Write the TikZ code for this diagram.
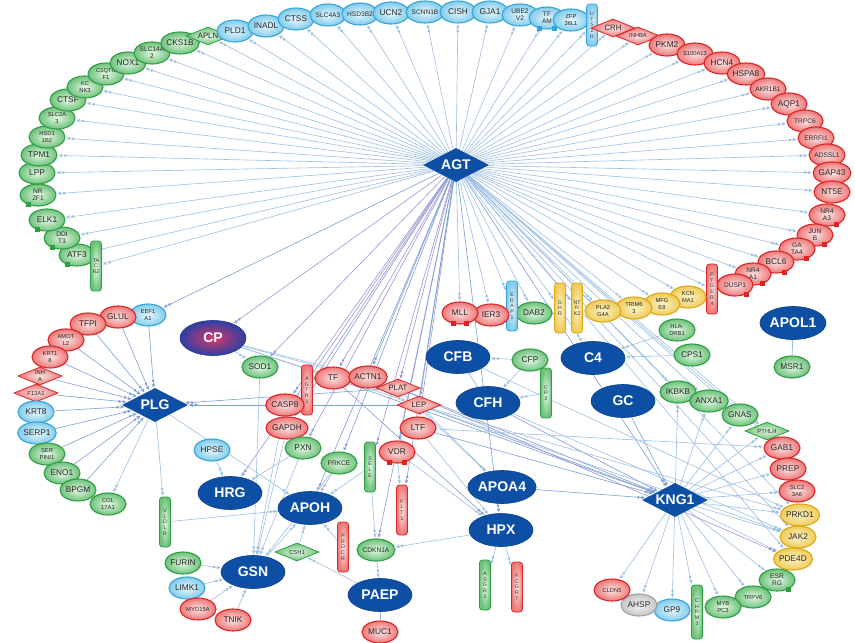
\documentclass[tikz,border=0pt]{standalone}
\usepackage{fontspec}
\setmainfont{Liberation Sans}
\usetikzlibrary{shapes.geometric,arrows.meta,backgrounds,calc}
\definecolor{gL}{HTML}{E4F7E4}\definecolor{gM}{HTML}{6EC27A}\definecolor{gD}{HTML}{2E9E46}
\definecolor{rL}{HTML}{FCE4E4}\definecolor{rM}{HTML}{EE7878}\definecolor{rD}{HTML}{DD2424}
\definecolor{bL}{HTML}{E6F7FD}\definecolor{bM}{HTML}{82CBEC}\definecolor{bD}{HTML}{32A6D8}
\definecolor{yL}{HTML}{FCF2C6}\definecolor{yM}{HTML}{EFCC5A}\definecolor{yD}{HTML}{DCA814}
\definecolor{kL}{HTML}{F4F4F4}\definecolor{kM}{HTML}{C6C6C6}\definecolor{kD}{HTML}{A0A0A0}
\definecolor{bigB}{HTML}{0E4FA6}
\definecolor{eC}{HTML}{9CBFE4}\definecolor{eD}{HTML}{7E9ED6}\definecolor{eP}{HTML}{9C94DA}
\definecolor{cpI}{HTML}{D8386A}\definecolor{cpO}{HTML}{2C40A2}
\newcommand\putfoot[3]{\fill[#3] ($(#1.#2)+(-2.5,-2.5)$) rectangle ++(5,5);}
\tikzset{
 sm/.style={ellipse, line width=1.1pt, minimum width=36pt, minimum height=22pt, inner sep=0pt, text=black!85, font=\fontsize{8.3}{8.5}\selectfont, align=center},
 tw/.style={font=\fontsize{6.6}{6.8}\selectfont},
 ts/.style={font=\fontsize{5.8}{6.1}\selectfont},
 gc/.style={draw=gD, inner color=gL, outer color=gM},
 rc/.style={draw=rD, inner color=rL, outer color=rM},
 bc/.style={draw=bD, inner color=bL, outer color=bM},
 yc/.style={draw=yD, inner color=yL, outer color=yM},
 kc/.style={draw=kD, inner color=kL, outer color=kM},
 sdia/.style={diamond, aspect=2.6, line width=0.8pt, minimum width=44pt, minimum height=18pt, inner sep=0pt, text=black!85, font=\fontsize{7.8}{7.8}\selectfont, align=center},
 vrec/.style={rectangle, rounded corners=3pt, line width=0.8pt, minimum width=11pt, minimum height=50pt, inner sep=0pt, text=black!80, font=\fontsize{5.2}{5.7}\selectfont, align=center},
 big/.style={ellipse, fill=bigB, draw=bigB!85!black, line width=0.6pt, minimum width=64pt, minimum height=33pt, inner sep=0pt, text=white, font=\fontsize{14}{14}\selectfont\bfseries},
 bigd/.style={diamond, aspect=1.9, fill=bigB, minimum width=66pt, minimum height=34pt, inner sep=0pt, text=white, font=\fontsize{14}{14}\selectfont\bfseries},
 ed/.style={draw=eC, line width=0.6pt, shorten >=1pt, -{Circle[length=2.6pt,sep=1.4pt] Stealth[length=4pt,width=3.6pt]}},
 edd/.style={ed, draw=eD},
 edp/.style={ed, draw=eP},
 pl/.style={draw=eC, line width=0.7pt},
}
\begin{document}
\begin{tikzpicture}[x=1pt,y=-1pt]
\useasboundingbox (0,0) rectangle (855,643);
% ---- hubs
\node[bigd] (AGT) at (456,165) {AGT};
\node[bigd] (PLG) at (155,405) {PLG};
\node[bigd] (KNG1) at (675,500) {KNG1};
\node[big, draw=cpO, inner color=cpI, outer color=cpO, minimum width=66pt, minimum height=35pt] (CP) at (213,338) {CP};
\node[big] (CFB) at (458,357) {CFB};
\node[big] (CFH) at (488,403) {CFH};
\node[big] (C4) at (593,358) {C4};
\node[big] (GC) at (623,401) {GC};
\node[big] (APOL1) at (793,323) {APOL1};
\node[big] (HRG) at (230,493) {HRG};
\node[big] (APOH) at (310,508) {APOH};
\node[big] (APOA4) at (502,487) {APOA4};
\node[big] (HPX) at (501,530) {HPX};
\node[big] (GSN) at (253,572) {GSN};
\node[big] (PAEP) at (380,595) {PAEP};
% ---- outer arc, green
\node[sm,gc] (ATF3) at (77,255) {ATF3};
\node[vrec,gc] (TACR2) at (96,266) {TA\\C\\R2};
\node[sm,gc,tw] (DDIT3) at (62,238) {DDI\\T3};
\node[sm,gc] (ELK1) at (47,220) {ELK1};
\node[sm,gc,tw] (NR2F1) at (38,195) {NR\\2F1};
\node[sm,gc] (LPP) at (37,173) {LPP};
\node[sm,gc] (TPM1) at (39,155) {TPM1};
\node[sm,gc,ts] (HSD11B2) at (47,137) {HSD1\\1B2};
\node[sm,gc,ts] (SLC2A3) at (57,118) {SLC2A\\3};
\node[sm,gc] (CTSF) at (68,100) {CTSF};
\node[sm,gc,ts] (KCNK3) at (85,87) {KC\\NK3};
\node[sm,gc,ts] (C1QTNF1) at (106,74) {C1QTN\\F1};
\node[sm,gc] (NOX1) at (128,63) {NOX1};
\node[sm,gc,tw] (SLC14A2) at (152,53) {SLC14A\\2};
\node[sm,gc] (CKS1B) at (180,43) {CKS1B};
\node[sdia,gc] (APLN) at (208,36) {APLN};
% ---- blue
\node[sm,bc] (PLD1) at (235,31) {PLD1};
\node[sm,bc] (INADL) at (266,26) {INADL};
\node[sm,bc] (CTSS) at (296,19) {CTSS};
\node[sm,bc,tw] (SLC4A3) at (328,15) {SLC4A3};
\node[sm,bc,tw] (HSD3B2) at (360,14) {HSD3B2};
\node[sm,bc] (UCN2) at (391,13) {UCN2};
\node[sm,bc,tw] (SCNN1B) at (425,12) {SCNN1B};
\node[sm,bc] (CISH) at (458,12) {CISH};
\node[sm,bc] (GJA1) at (490,12) {GJA1};
\node[sm,bc,tw] (UBE2V2) at (520,15) {UBE2\\V2};
\node[sm,bc,tw] (TFAM) at (547,18) {TF\\AM};
\node[sm,bc,ts] (ZFP36L1) at (571,20) {ZFP\\36L1};
\node[vrec,bc,minimum height=42pt] (UTS2R) at (592,25) {U\\T\\S\\2\\R};
% ---- red
\node[sdia,rc] (CRH) at (613,28) {CRH};
\node[sdia,rc,ts] (INHBA) at (638,36) {INHBA};
\node[sm,rc] (PKM2) at (667,45) {PKM2};
\node[sm,rc,ts] (S100A13) at (695,54) {S100A13};
\node[sm,rc] (HCN4) at (722,63) {HCN4};
\node[sm,rc] (HSPA8) at (746,74) {HSPA8};
\node[sm,rc,tw] (AKR1B1) at (768,89) {AKR1B1};
\node[sm,rc] (AQP1) at (789,104) {AQP1};
\node[sm,rc,tw] (TRPC6) at (805,121) {TRPC6};
\node[sm,rc,tw] (ERRFI1) at (816,138) {ERRFI1};
\node[sm,rc,tw] (ADSSL1) at (827,155) {ADSSL1};
\node[sm,rc] (GAP43) at (832,173) {GAP43};
\node[sm,rc] (NT5E) at (832,192) {NT5E};
\node[sm,rc,tw] (NR4A3) at (827,215) {NR4\\A3};
\node[sm,rc,tw] (JUNB) at (815,235) {JUN\\B};
\node[sm,rc,tw] (GATA4) at (797,249) {GA\\TA4};
\node[sm,rc] (BCL6) at (776,262) {BCL6};
\node[sm,rc,tw] (NR4A1) at (753,274) {NR4\\A1};
\node[sm,rc,tw] (DUSP1) at (735,285) {DUSP1};
\node[vrec,rc] (PTGER4) at (712,289) {P\\T\\G\\E\\R\\4};
% ---- yellow & neighbours
\node[sm,yc,ts] (KCNMA1) at (688,297) {KCN\\MA1};
\node[sm,yc,ts] (MFGE8) at (662,304) {MFG\\E8};
\node[sm,yc,ts] (TRIM63) at (634,308) {TRIM6\\3};
\node[sm,yc,ts] (PLA2G4A) at (603,311) {PLA2\\G4A};
\node[vrec,yc] (NTRK2) at (577,308) {NT\\R\\K2};
\node[vrec,yc] (GHR) at (560,308) {G\\H\\R};
\node[sm,gc] (DAB2) at (534,313) {DAB2};
\node[vrec,bc] (ERAP1) at (512,306) {E\\R\\A\\P\\1};
\node[sm,rc] (IER3) at (491,315) {IER3};
\node[sm,rc] (MLL) at (460,313) {MLL};
% ---- PLG cluster
\node[sm,bc,ts] (EEF1A1) at (148,315) {EEF1\\A1};
\node[sm,rc] (GLUL) at (118,317) {GLUL};
\node[sm,rc] (TFPI) at (88,324) {TFPI};
\node[sm,rc,ts] (AMOTL2) at (66,340) {AMOT\\L2};
\node[sm,rc,ts] (KRT18) at (50,357) {KRT1\\8};
\node[sdia,rc,ts] (INHA) at (40,376) {INH\\A};
\node[sdia,rc,ts] (F13A1) at (36,393) {F13A1};
\node[sm,bc] (KRT8) at (36,412) {KRT8};
\node[sm,bc] (SERP1) at (37,433) {SERP1};
\node[sm,gc,ts] (SERPINI1) at (47,454) {SER\\PINI1};
\node[sm,gc] (ENO1) at (62,473) {ENO1};
\node[sm,gc] (BPGM) at (78,490) {BPGM};
\node[sm,gc,ts] (COL17A1) at (108,504) {COL\\17A1};
\node[vrec,gc] (VLDLR) at (165,522) {V\\L\\D\\L\\R};
% ---- middle
\node[sm,gc] (SOD1) at (260,367) {SOD1};
\node[vrec,rc] (AGTR1) at (307,390) {A\\G\\T\\R\\1};
\node[sm,rc] (TF) at (333,378) {TF};
\node[sm,rc] (ACTN1) at (368,377) {ACTN1};
\node[sdia,rc] (PLAT) at (398,388) {PLAT};
\node[sdia,rc] (LEP) at (419,405) {LEP};
\node[sm,rc] (LTF) at (418,428) {LTF};
\node[sm,rc] (VDR) at (397,452) {VDR};
\node[sm,rc] (CASP8) at (285,405) {CASP8};
\node[sm,rc] (GAPDH) at (287,428) {GAPDH};
\node[sm,gc] (PXN) at (303,448) {PXN};
\node[sm,gc,tw] (PRKCE) at (339,463) {PRKCE};
\node[vrec,gc] (SELE) at (370,467) {S\\E\\L\\E};
\node[sm,bc] (HPSE) at (212,450) {HPSE};
\node[vrec,rc] (FLT1) at (402,510) {F\\L\\T\\1};
\node[sm,gc,tw] (CDKN1A) at (376,550) {CDKN1A};
\node[sdia,gc,ts] (CSH1) at (297,552) {CSH1};
\node[vrec,rc] (PROCR) at (343,547) {P\\R\\O\\C\\R};
\node[sm,gc] (FURIN) at (183,563) {FURIN};
\node[sm,bc] (LIMK1) at (187,588) {LIMK1};
\node[sm,rc,ts] (MYO15A) at (198,609) {MYO15A};
\node[sm,rc] (TNIK) at (233,620) {TNIK};
\node[sm,rc] (MUC1) at (380,632) {MUC1};
\node[vrec,gc] (ASGR1) at (485,585) {A\\S\\G\\R\\1};
\node[vrec,rc] (FCGRT) at (517,587) {F\\C\\G\\R\\T};
\node[sm,gc] (CFP) at (530,360) {CFP};
\node[vrec,gc] (CR2) at (546,393) {C\\R\\2};
\node[sm,gc,ts] (HLADRB1) at (677,330) {HLA-\\DRB1};
\node[sm,gc] (CPS1) at (692,355) {CPS1};
\node[sm,gc] (MSR1) at (792,367) {MSR1};
% ---- KNG1 cluster
\node[sm,gc] (IKBKB) at (678,392) {IKBKB};
\node[sm,gc] (ANXA1) at (709,401) {ANXA1};
\node[sm,gc] (GNAS) at (740,415) {GNAS};
\node[sdia,gc,ts] (PTHLH) at (767,431) {PTHLH};
\node[sm,rc] (GAB1) at (782,448) {GAB1};
\node[sm,rc] (PREP) at (788,469) {PREP};
\node[sm,rc,ts] (SLC) at (797,491) {SLC2\\3A6};
\node[sm,yc] (PRKD1) at (800,515) {PRKD1};
\node[sm,yc] (JAK2) at (798,537) {JAK2};
\node[sm,yc] (PDE4D) at (793,559) {PDE4D};
\node[sm,gc,tw] (ESRRG) at (777,580) {ESR\\RG};
\node[sm,gc,ts] (TRPV6) at (753,597) {TRPV6};
\node[sm,gc,ts] (MYBPC3) at (723,607) {MYB\\PC3};
\node[vrec,gc,minimum height=54pt] (CHRM3) at (697,612) {C\\H\\R\\M\\3};
\node[sm,bc] (GP9) at (672,610) {GP9};
\node[sm,kc] (AHSP) at (639,605) {AHSP};
\node[sm,rc,ts] (CLDN5) at (612,590) {CLDN5};
% ---- feet
\putfoot{TFAM}{-125}{bD}\putfoot{TFAM}{-55}{bD}
\putfoot{MLL}{-120}{rD}\putfoot{MLL}{-60}{rD}
\putfoot{VDR}{-125}{rD}\putfoot{VDR}{-55}{rD}
\putfoot{NR4A3}{-45}{rD}\putfoot{JUNB}{-45}{rD}\putfoot{GATA4}{-45}{rD}
\putfoot{BCL6}{-50}{rD}\putfoot{NR4A1}{-45}{rD}\putfoot{DUSP1}{-40}{rD}
\putfoot{ESRRG}{-40}{gD}\putfoot{NR2F1}{-135}{gD}\putfoot{ELK1}{-135}{gD}
\putfoot{DDIT3}{-135}{gD}\putfoot{ATF3}{-135}{gD}
% ---- edges
\begin{scope}[on background layer]
\fill[white] (0,0) rectangle (855,643);
\foreach \n in {TACR2,ATF3,DDIT3,ELK1,NR2F1,LPP,TPM1,HSD11B2,SLC2A3,CTSF,KCNK3,C1QTNF1,NOX1,SLC14A2,CKS1B,APLN,PLD1,INADL,CTSS,SLC4A3,HSD3B2,UCN2,SCNN1B,CISH,GJA1,UBE2V2,TFAM,ZFP36L1,UTS2R,CRH,INHBA,PKM2,S100A13,HCN4,HSPA8,AKR1B1,AQP1,TRPC6,ERRFI1,ADSSL1,GAP43,NT5E,NR4A3,JUNB,GATA4,BCL6,NR4A1,DUSP1,PTGER4,KCNMA1,MFGE8,TRIM63,PLA2G4A,NTRK2,GHR,DAB2,ERAP1,IER3,MLL}
  \draw[ed] (AGT) -- (\n);
\foreach \n in {CP,SOD1,AGTR1,TF,PLAT,LTF,CASP8,PXN,SELE,CDKN1A,HRG}
  \draw[edp] (AGT) -- (\n);
\foreach \n in {ACTN1,LEP,VDR,GAPDH,PRKCE,FLT1,APOH,HPX,EEF1A1,KNG1}
  \draw[edd] (AGT) -- (\n);
\foreach \n in {IKBKB,ANXA1,GNAS,PTHLH,GAB1,PRKD1,JAK2,PDE4D}
  \draw[ed] (AGT) -- (\n);
% PLG
\foreach \n in {EEF1A1,GLUL,TFPI,AMOTL2,KRT18,INHA,F13A1,KRT8,SERP1,SERPINI1,ENO1,BPGM,CASP8,PLAT,LEP}
  \draw[edd] (\n) -- (PLG);
\draw[ed] (PLG) -- (COL17A1);
\draw[ed] (PLG) -- (VLDLR);
\draw[ed] (PLG) -- (APOH);
% CP
\foreach \n in {SOD1,TF,ACTN1,PLAT,LEP}
  \draw[ed] (CP) -- (\n);
% GSN / HRG / APOH
\foreach \n in {SOD1,CASP8,GAPDH,PXN,PRKCE,FURIN,LIMK1,MYO15A,TNIK}
  \draw[ed] (\n) -- (GSN);
\draw[ed] (HPSE) -- (HRG);
\draw[ed] (PXN) -- (HRG);
\foreach \n in {VLDLR,PRKCE,SELE,CSH1,PROCR,GSN}
  \draw[ed] (\n) -- (APOH);
% PAEP / HPX
\draw[ed] (CDKN1A) -- (PAEP);
\draw[pl] (PAEP) -- (MUC1);
\draw[ed] (PAEP) -- (CSH1);
\draw[ed] (HPX) -- (CDKN1A);
\draw[ed] (SELE) -- (CDKN1A);
\draw[ed] (VDR) -- (FLT1);
\draw[ed] (HPX) -- (ASGR1);
\draw[ed] (HPX) -- (FCGRT);
\draw[edd] (TF) -- (HPX);
\draw[ed] (LTF) -- (HPX);
\draw[ed] (VDR) -- (HPX);
\draw[ed] (LEP) -- (APOA4);
\draw[ed] (PLAT) -- (APOA4);
% complement
\draw[ed] (CFP) -- (CFB);
\draw[pl] (CFB) -- (CFH);
\draw[ed] (CR2) -- (CFH);
\draw[ed] (CFP) -- (CFH);
\draw[ed] (HLADRB1) -- (C4);
\draw[ed] (CPS1) -- (C4);
\draw[ed] (GHR) -- (C4);
\draw[pl] (APOL1) -- (MSR1);
% KNG1
\foreach \n in {IKBKB,ANXA1,GNAS,PTHLH,GAB1,PREP,SLC,PRKD1,JAK2,PDE4D,ESRRG,TRPV6,MYBPC3,CHRM3,GP9,AHSP,CLDN5}
  \draw[ed] (KNG1) -- (\n);
\foreach \n in {GC,APOA4,LEP,LTF,PLAT,CFH,TF}
  \draw[edd] (\n) -- (KNG1);
\draw[ed] (LEP) -- (PRKD1);
\draw[ed] (LEP) -- (JAK2);
\draw[edp] (PLAT) -- (PDE4D);
\draw[ed] (LTF) -- (GAB1);
\draw[ed] (CFH) -- (JAK2);
\draw[ed] (CFB) -- (PRKD1);
\end{scope}
\end{tikzpicture}
\end{document}
